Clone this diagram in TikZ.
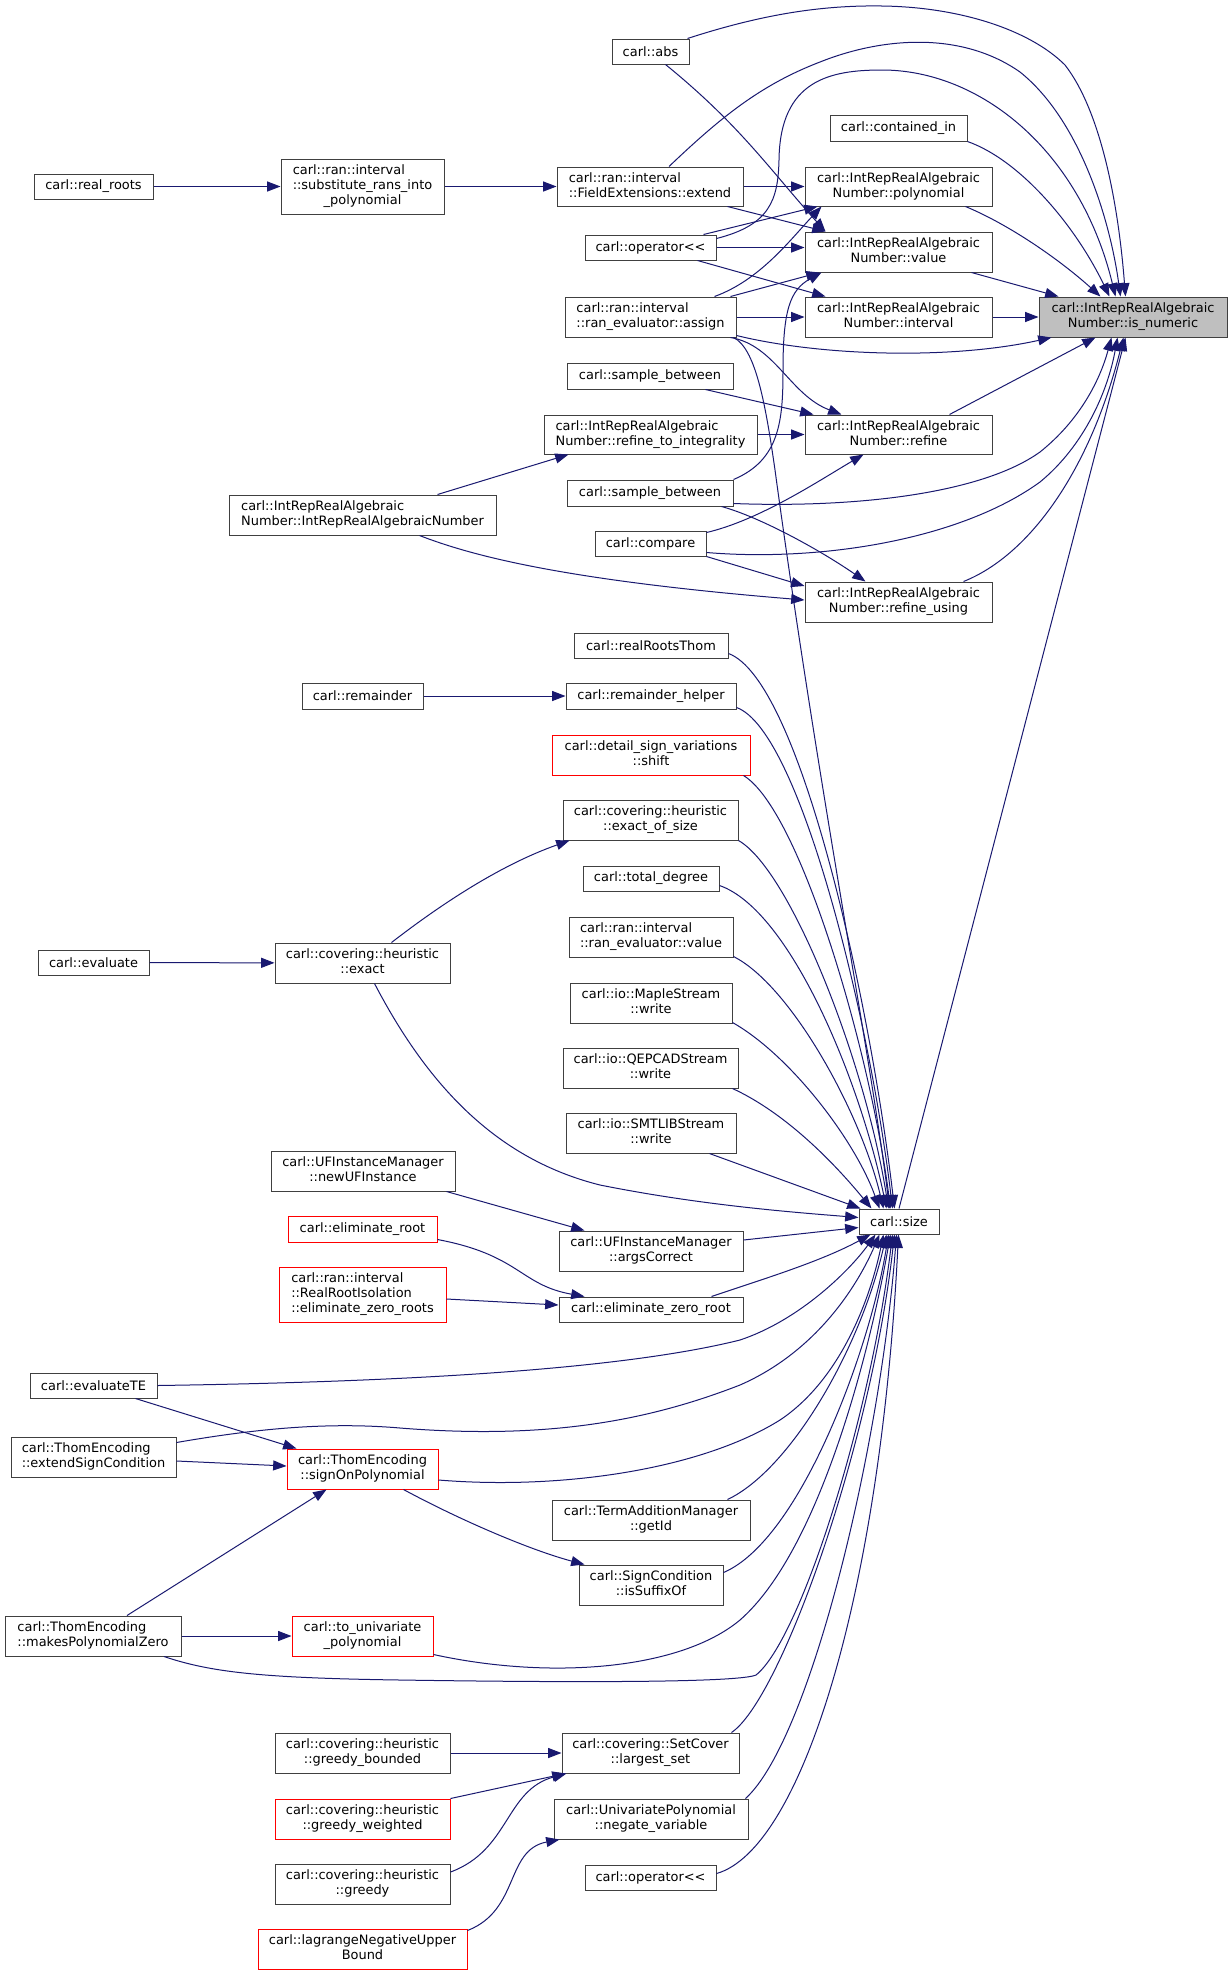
\documentclass[tikz,border=0pt]{standalone}
\usepackage{fontspec}
\setmainfont{DejaVu Sans}[Ligatures=TeXOff]
\usetikzlibrary{arrows.meta,calc}
\definecolor{edgec}{HTML}{191970}
\definecolor{boxc}{HTML}{404040}
\definecolor{redc}{HTML}{FF0000}
\definecolor{selc}{HTML}{BFBFBF}
\newcommand\nf{\fontsize{9.7}{11.25}\selectfont}
\newcommand\two[2]{\begin{tabular}{@{}l@{}}#1\\\multicolumn{1}{@{}c@{}}{#2}\end{tabular}}
\newcommand\three[3]{\begin{tabular}{@{}l@{}}#1\\#2\\\multicolumn{1}{@{}c@{}}{#3}\end{tabular}}
\newcommand\bx[7][box]{\node[#1,minimum width={(#5-#3)*0.75pt},minimum height={(#6-#4)*0.75pt}] (#2) at ({(#3+#5)/2},{(#4+#6)/2}) {#7};}
\begin{document}
\begin{tikzpicture}[x=0.75pt,y=-0.75pt,
  box/.style={draw=boxc,line width=0.75pt,fill=white,inner sep=0pt,font=\nf},
  redbox/.style={box,draw=redc},
  selbox/.style={box,fill=selc},
  ed/.style={draw=edgec,line width=0.75pt,-{Triangle[length=10pt,width=7.5pt]}}]
\fill[white] (0,0) rectangle (1232,1975);
\useasboundingbox (0,0) rectangle (1232,1975);
% nodes
\bx[selbox]{isn}{1039}{297}{1227}{337}{\two{carl::IntRepRealAlgebraic}{Number::is\_numeric}}
\bx{abs}{612}{39}{689}{64}{carl::abs}
\bx{contained}{830}{115}{967}{141}{carl::contained\_in}
\bx{poly}{805}{167}{992}{206}{\two{carl::IntRepRealAlgebraic}{Number::polynomial}}
\bx{value}{805}{232}{992}{272}{\two{carl::IntRepRealAlgebraic}{Number::value}}
\bx{interval}{805}{297}{992}{337}{\two{carl::IntRepRealAlgebraic}{Number::interval}}
\bx{refine}{805}{415}{992}{454}{\two{carl::IntRepRealAlgebraic}{Number::refine}}
\bx{refuse}{805}{582}{992}{622}{\two{carl::IntRepRealAlgebraic}{Number::refine\_using}}
\bx{extend}{557}{167}{743}{206}{\two{carl::ran::interval}{::FieldExtensions::extend}}
\bx{oplt1}{585}{235}{716}{260}{carl::operator<<}
\bx{assign}{565}{297}{736}{337}{\two{carl::ran::interval}{::ran\_evaluator::assign}}
\bx{sb1}{567}{363}{733}{389}{carl::sample\_between}
\bx{rti}{544}{415}{757}{454}{\two{carl::IntRepRealAlgebraic}{Number::refine\_to\_integrality}}
\bx{sb2}{567}{480}{733}{506}{carl::sample\_between}
\bx{compare}{595}{531}{706}{556}{carl::compare}
\bx{ctor}{229}{495}{496}{535}{\two{carl::IntRepRealAlgebraic}{Number::IntRepRealAlgebraicNumber}}
\bx{subst}{281}{159}{444}{214}{\three{carl::ran::interval}{::substitute\_rans\_into}{\_polynomial}}
\bx{realroots}{34}{174}{153}{199}{carl::real\_roots}
\bx{realRootsThom}{574}{633}{728}{658}{carl::realRootsThom}
\bx{remhelper}{566}{683}{736}{709}{carl::remainder\_helper}
\bx{remainder}{302}{683}{423}{709}{carl::remainder}
\bx[redbox]{shift}{552}{735}{750}{775}{\two{carl::detail\_sign\_variations}{::shift}}
\bx{exactsize}{563}{800}{738}{840}{\two{carl::covering::heuristic}{::exact\_of\_size}}
\bx{totaldeg}{583}{866}{719}{891}{carl::total\_degree}
\bx{revalue}{569}{917}{733}{957}{\two{carl::ran::interval}{::ran\_evaluator::value}}
\bx{maple}{570}{983}{732}{1023}{\two{carl::io::MapleStream}{::write}}
\bx{qepcad}{563}{1048}{738}{1088}{\two{carl::io::QEPCADStream}{::write}}
\bx{smtlib}{566}{1113}{736}{1153}{\two{carl::io::SMTLIBStream}{::write}}
\bx{evaluate}{38}{950}{149}{975}{carl::evaluate}
\bx{exact}{275}{943}{450}{983}{\two{carl::covering::heuristic}{::exact}}
\bx{size}{859}{1209}{939}{1234}{carl::size}
\bx{newuf}{271}{1151}{455}{1191}{\two{carl::UFInstanceManager}{::newUFInstance}}
\bx[redbox]{elimroot}{288}{1216}{437}{1242}{carl::eliminate\_root}
\bx[redbox]{rri}{279}{1267}{446}{1322}{\three{carl::ran::interval}{::RealRootIsolation}{::eliminate\_zero\_roots}}
\bx{args}{559}{1231}{743}{1271}{\two{carl::UFInstanceManager}{::argsCorrect}}
\bx{ezr}{559}{1297}{743}{1322}{carl::eliminate\_zero\_root}
\bx{evalTE}{30}{1373}{157}{1398}{carl::evaluateTE}
\bx{extsign}{11}{1437}{176}{1477}{\two{carl::ThomEncoding}{::extendSignCondition}}
\bx[redbox]{signon}{287}{1449}{438}{1489}{\two{carl::ThomEncoding}{::signOnPolynomial}}
\bx{term}{552}{1500}{750}{1540}{\two{carl::TermAdditionManager}{::getId}}
\bx{suffix}{579}{1565}{723}{1605}{\two{carl::SignCondition}{::isSuffixOf}}
\bx{mpz}{5}{1616}{181}{1656}{\two{carl::ThomEncoding}{::makesPolynomialZero}}
\bx[redbox]{touni}{292}{1616}{433}{1656}{\two{carl::to\_univariate}{\_polynomial}}
\bx{gbounded}{275}{1733}{450}{1773}{\two{carl::covering::heuristic}{::greedy\_bounded}}
\bx[redbox]{gweighted}{275}{1799}{450}{1839}{\two{carl::covering::heuristic}{::greedy\_weighted}}
\bx{greedy}{275}{1864}{450}{1904}{\two{carl::covering::heuristic}{::greedy}}
\bx[redbox]{lagrange}{258}{1929}{467}{1969}{\two{carl::lagrangeNegativeUpper}{Bound}}
\bx{largest}{562}{1733}{739}{1773}{\two{carl::covering::SetCover}{::largest\_set}}
\bx{negate}{554}{1799}{748}{1839}{\two{carl::UnivariatePolynomial}{::negate\_variable}}
\bx{oplt2}{585}{1865}{716}{1890}{carl::operator<<}
% straight horizontal edges
\draw[ed] (realroots) -- (subst);
\draw[ed] (subst) -- (extend);
\draw[ed] (extend) -- (poly);
\draw[ed] (oplt1.east) -- (oplt1.east -| value.west);
\draw[ed] (assign) -- (interval);
\draw[ed] (interval) -- (isn);
\draw[ed] (rti) -- (refine);
\draw[ed] (remainder) -- (remhelper);
\draw[ed] (evaluate) -- (exact);
\draw[ed] (mpz) -- (touni);
\draw[ed] (gbounded) -- (largest);
% into is_numeric from top
\draw[ed] ($(abs.north east)+(-2,0)$) .. controls (760,15) and (820,5) .. (882,6) .. controls (960,7) and (1030,30) .. (1065,65) .. controls (1100,110) and (1118,200) .. ($(isn.north west)+(87,0)$);
\draw[ed] ($(extend.north)+(19,0)$) .. controls (720,118) and (760,85) .. (820,62) .. controls (880,38) and (960,30) .. (1020,72) .. controls (1080,120) and (1110,220) .. ($(isn.north west)+(82,0)$);
\draw[ed] ($(oplt1.north east)+(0,4)$) .. controls (770,225) and (778,200) .. (779,160) .. controls (780,80) and (830,70) .. (882,70) .. controls (980,70) and (1080,150) .. ($(isn.north west)+(77,0)$);
\draw[ed] (contained.south east) .. controls (1020,160) and (1075,225) .. ($(isn.north west)+(71,0)$);
\draw[ed] ($(poly.south east)+(-27,0)$) .. controls (1010,225) and (1060,260) .. ($(isn.north west)+(62,0)$);
\draw[ed] ($(value.south east)+(-21,0)$) -- ($(isn.north west)+(20,0)$);
% into is_numeric from bottom
\draw[ed] ($(assign.south east)+(0,-2)$) .. controls (820,356) and (950,360) .. ($(isn.south west)+(13,0)$);
\draw[ed] ($(refine.north east)+(-43,0)$) -- ($(isn.south west)+(57,0)$);
\draw[ed] ($(sb2.south east)+(0,-3)$) .. controls (850,508) and (980,495) .. (1040,452) .. controls (1080,420) and (1100,380) .. ($(isn.south west)+(73,0)$);
\draw[ed] ($(compare.south east)+(0,-4)$) .. controls (820,562) and (960,540) .. (1040,482) .. controls (1085,445) and (1108,390) .. ($(isn.south west)+(79,0)$);
\draw[ed] ($(refuse.north east)+(-29,0)$) .. controls (1030,555) and (1090,470) .. ($(isn.south west)+(85,0)$);
\draw[ed] (size.north) -- ($(isn.south west)+(87,0)$);
% polynomial / value / interval / refine / refine_using
\draw[ed] ($(oplt1.north east)+(-13,0)$) -- ($(poly.south west)+(13,0)$);
\draw[ed] ($(assign.north)+(64,0)$) .. controls (760,280) and (790,240) .. ($(poly.south west)+(17,0)$);
\draw[ed] ($(abs.south)+(15,0)$) .. controls (740,125) and (770,170) .. ($(value.north west)+(21,0)$);
\draw[ed] ($(extend.south east)+(-16,0)$) -- ($(value.north west)+(21,0)$);
\draw[ed] ($(assign.north east)+(-6,0)$) -- ($(value.south west)+(15,0)$);
\draw[ed] (sb2.north east) .. controls (780,460) and (783,420) .. (783,370) .. controls (783,310) and (790,290) .. ($(value.south west)+(17,0)$);
\draw[ed] ($(oplt1.south east)+(-19,0)$) -- ($(interval.north west)+(21,0)$);
\draw[ed] ($(assign.south east)+(-6,0)$) .. controls (775,345) and (790,395) .. ($(refine.north west)+(37,0)$);
\draw[ed] ($(sb1.south east)+(-28,0)$) -- ($(refine.north west)+(9,0)$);
\draw[ed] ($(compare.north east)+(0,2)$) .. controls (760,520) and (820,480) .. ($(refine.south west)+(59,0)$);
\draw[ed] ($(sb2.south east)+(-12,0)$) .. controls (760,517) and (820,550) .. ($(refuse.north west)+(61,0)$);
\draw[ed] (compare.south east) -- ($(refuse.west)+(0,-16)$);
\draw[ed] ($(ctor.south)+(57,0)$) .. controls (470,555) and (560,580) .. ($(refuse.west)+(0,-2)$);
\draw[ed] ($(ctor.north)+(75,0)$) -- ($(rti.south west)+(25,0)$);
% into size
\draw[ed] ($(assign.south east)+(-3,0)$) .. controls (755,348) and (765,400) .. (775,470) .. controls (820,800) and (870,1050) .. ($(size.north west)+(31,0)$);
\draw[ed] ($(realRootsThom.east)+(0,8)$) .. controls (800,680) and (870,1000) .. ($(size.north west)+(36,0)$);
\draw[ed] ($(remhelper.south east)+(0,-2)$) .. controls (800,730) and (870,1020) .. ($(size.north west)+(34,0)$);
\draw[ed] ($(shift.south east)+(-7,0)$) .. controls (800,810) and (870,1050) .. ($(size.north west)+(32,0)$);
\draw[ed] (exactsize.south east) .. controls (790,870) and (865,1060) .. ($(size.north west)+(30,0)$);
\draw[ed] ($(totaldeg.south east)+(0,-6)$) .. controls (790,910) and (860,1080) .. ($(size.north west)+(28,0)$);
\draw[ed] ($(revalue.south east)+(0,-1)$) .. controls (790,985) and (860,1110) .. ($(size.north west)+(25,0)$);
\draw[ed] ($(maple.south east)+(0,-1)$) .. controls (790,1055) and (855,1140) .. ($(size.north west)+(21,0)$);
\draw[ed] ($(qepcad.south east)+(-6,0)$) .. controls (790,1115) and (840,1170) .. ($(size.north west)+(13,0)$);
\draw[ed] ($(smtlib.south east)+(-27,0)$) -- ($(size.north west)+(2,0)$);
\draw[ed] ($(exact.south)+(12,0)$) .. controls (430,1090) and (500,1160) .. (600,1185) .. controls (700,1205) and (790,1212) .. ($(size.west)+(0,-4)$);
\draw[ed] ($(args.east)+(0,-11)$) -- ($(size.west)+(0,6)$);
\draw[ed] ($(ezr.north east)+(-32,0)$) .. controls (760,1280) and (820,1262) .. ($(size.south west)+(12,0)$);
\draw[ed] (evalTE.east) .. controls (400,1382) and (620,1370) .. (740,1340) .. controls (800,1320) and (850,1270) .. ($(size.south west)+(17,0)$);
\draw[ed] ($(extsign.north east)+(0,6)$) .. controls (260,1428) and (330,1422) .. (400,1428) .. controls (550,1440) and (650,1420) .. (740,1385) .. controls (820,1350) and (860,1280) .. ($(size.south west)+(21,0)$);
\draw[ed] ($(signon.east)+(0,11)$) .. controls (560,1490) and (700,1470) .. (780,1420) .. controls (840,1380) and (870,1300) .. ($(size.south west)+(25,0)$);
\draw[ed] ($(term.north east)+(-23,0)$) .. controls (790,1470) and (860,1350) .. ($(size.south west)+(28,0)$);
\draw[ed] ($(suffix.north east)+(0,8)$) .. controls (800,1540) and (870,1350) .. ($(size.south west)+(30,0)$);
\draw[ed] ($(touni.south east)+(0,-2)$) .. controls (550,1680) and (680,1670) .. (740,1620) .. controls (820,1550) and (870,1350) .. ($(size.south west)+(32,0)$);
\draw[ed] ($(mpz.south)+(71,0)$) .. controls (210,1672) and (260,1678) .. (400,1680) .. controls (600,1683) and (740,1682) .. (756,1675) .. controls (800,1640) and (870,1420) .. ($(size.south west)+(34,0)$);
\draw[ed] ($(largest.north east)+(-8,0)$) .. controls (780,1700) and (870,1450) .. ($(size.south west)+(36,0)$);
\draw[ed] ($(negate.north east)+(-3,0)$) .. controls (810,1740) and (880,1450) .. ($(size.south west)+(38,0)$);
\draw[ed] ($(oplt2.east)+(0,-4)$) .. controls (800,1850) and (880,1600) .. ($(size.south west)+(40,0)$);
% other edges
\draw[ed] ($(exact.north)+(29,0)$) .. controls (440,905) and (500,865) .. ($(exactsize.south west)+(7,0)$);
\draw[ed] ($(newuf.south east)+(-9,0)$) -- ($(args.north west)+(26,0)$);
\draw[ed] ($(elimroot.south east)+(0,-3)$) .. controls (520,1255) and (520,1285) .. ($(ezr.north west)+(26,0)$);
\draw[ed] ($(rri.east)+(0,4.5)$) -- ($(ezr.west)+(0,-4.5)$);
\draw[ed] ($(evalTE.south east)+(-22,0)$) -- ($(signon.north west)+(10,0)$);
\draw[ed] ($(extsign.east)+(0,4)$) -- ($(signon.west)+(0,-3)$);
\draw[ed] ($(mpz.north)+(34,0)$) -- ($(signon.south west)+(40,0)$);
\draw[ed] ($(signon.south east)+(-35,0)$) .. controls (460,1520) and (530,1550) .. ($(suffix.north west)+(6,0)$);
\draw[ed] (gweighted.north east) -- ($(largest.south west)+(4,0)$);
\draw[ed] ($(greedy.east)+(0,-12)$) .. controls (510,1850) and (505,1790) .. ($(largest.south west)+(5,0)$);
\draw[ed] ($(lagrange.north east)+(0,2)$) .. controls (520,1910) and (505,1850) .. ($(negate.south west)+(6,0)$);
\end{tikzpicture}
\end{document}
